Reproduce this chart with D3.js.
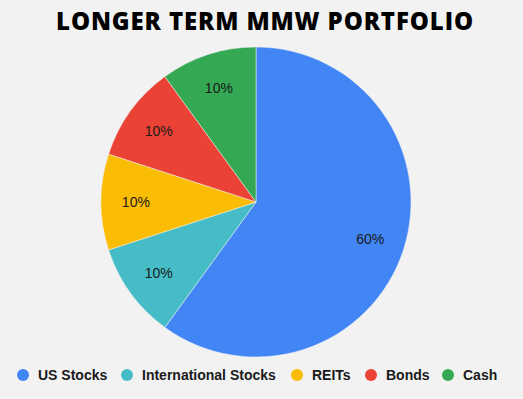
<!DOCTYPE html>
<html><head><meta charset="utf-8">
<script src="https://cdn.jsdelivr.net/npm/d3@7"></script>
<style>body{margin:0;background:#f2f2f2}svg{display:block}</style>
</head><body>
<svg id="c" width="523" height="399"></svg>
<script>
const categories = ["US Stocks","International Stocks","REITs","Bonds","Cash"];
const values = [60,10,10,10,10];
const colors = ["#4285F4","#46BDC6","#FBBC04","#EA4335","#34A853"];
const title = "LONGER TERM MMW PORTFOLIO";

const svg = d3.select("#c");
svg.append("rect").attr("width",523).attr("height",399).attr("fill","#f2f2f2");
svg.append("text").attr("x",265).attr("y",30).attr("text-anchor","middle")
  .attr("font-family","'Open Sans', sans-serif").attr("font-weight",800).attr("font-size",24)
  .attr("letter-spacing",0.9)
  .attr("fill","#000").text(title);

const cx=256, cy=202, R=155;
const total = d3.sum(values);
const pie = d3.pie().sort(null).value(d=>d)(values);
const arc = d3.arc().innerRadius(0).outerRadius(R);
const g = svg.append("g").attr("transform",`translate(${cx},${cy})`);
g.selectAll("path").data(pie).join("path").attr("d",arc).attr("fill",(d,i)=>colors[i])
  .attr("stroke","#f2f2f2").attr("stroke-width",0.5);
const lab = d3.arc().innerRadius(R*0.775).outerRadius(R*0.775);
g.selectAll("text.l").data(pie).join("text").attr("class","l")
  .attr("transform",d=>`translate(${lab.centroid(d)})`)
  .attr("text-anchor","middle").attr("dy","0.36em")
  .attr("font-family","'Liberation Sans', Arial, sans-serif").attr("font-size",14).attr("fill","#1a1a1a")
  .text(d=>Math.round(d.data/total*100)+"%");

const lx = [23,127,297,371,448];
const lg = svg.append("g");
categories.forEach((c,i)=>{
  lg.append("circle").attr("cx",lx[i]).attr("cy",375).attr("r",6).attr("fill",colors[i]);
  lg.append("text").attr("x",lx[i]+15).attr("y",375).attr("dy","0.35em")
    .attr("font-family","'Liberation Sans', Arial, sans-serif").attr("font-weight","bold").attr("font-size",14)
    .attr("fill","#1a1a1a").text(c);
});
</script>
</body></html>
